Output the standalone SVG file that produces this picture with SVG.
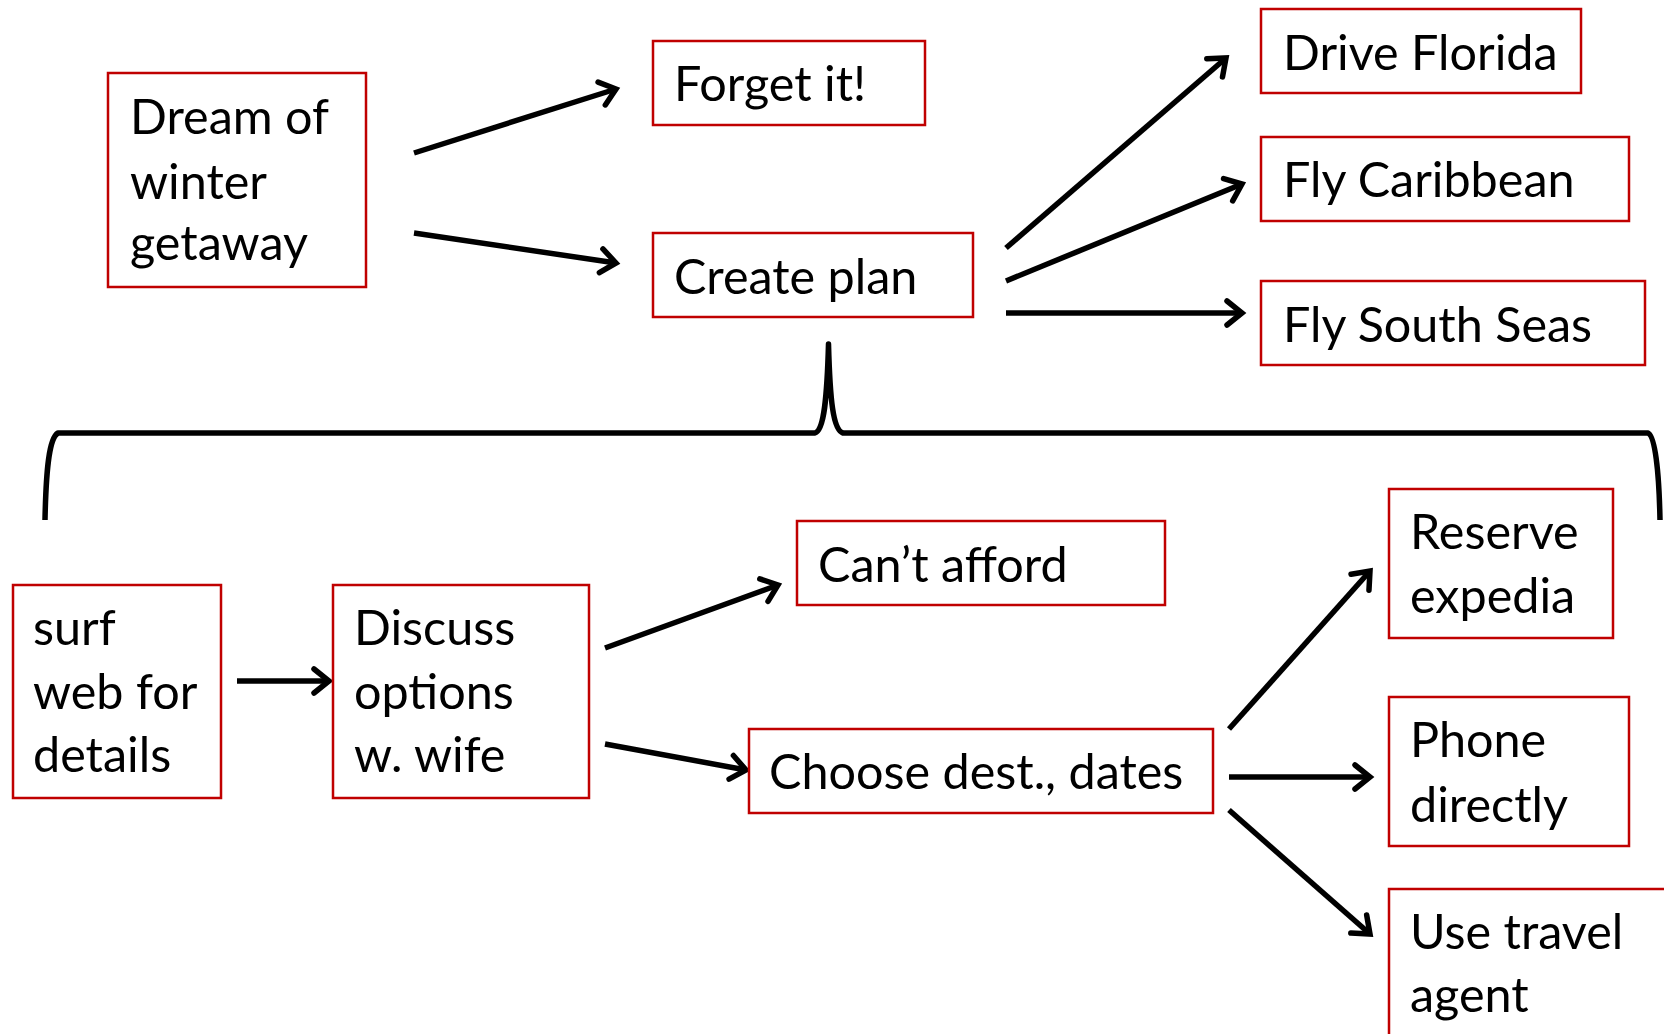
<svg xmlns="http://www.w3.org/2000/svg" width="1664" height="1034" viewBox="0 0 1664 1034">
  <style>
    .box { fill: #ffffff; stroke: #c00000; stroke-width: 2.5; }
    .lbl { font-family: Lato, "Liberation Sans", sans-serif; font-size: 48.5px; fill: #000000; }
    .link { fill: none; stroke: #000000; stroke-width: 5.5; marker-end: url(#chev); }
    .brace { fill: none; stroke: #000000; stroke-width: 5.5; stroke-linejoin: round; }
  </style>
  <defs>
    <marker id="chev" markerUnits="userSpaceOnUse" markerWidth="40" markerHeight="40" viewBox="-20 -20 40 40" refX="0" refY="0" orient="auto">
      <path d="M-15,-12 L0,0 L-15,12" fill="none" stroke="#000000" stroke-width="5.5" stroke-linecap="round" stroke-linejoin="miter"/>
    </marker>
  </defs>

  <rect width="1664" height="1034" fill="#ffffff"/>

  <!-- connectors -->
  <g id="connectors">
    <line class="link" x1="414" y1="153" x2="616" y2="89"/>
    <line class="link" x1="414" y1="233" x2="616" y2="263"/>
    <line class="link" x1="1006" y1="248" x2="1226" y2="58"/>
    <line class="link" x1="1006" y1="281" x2="1242" y2="184"/>
    <line class="link" x1="1006" y1="313" x2="1242" y2="313"/>
    <line class="link" x1="237" y1="681" x2="329" y2="681"/>
    <line class="link" x1="605" y1="648" x2="778" y2="585"/>
    <line class="link" x1="605" y1="744" x2="746" y2="770"/>
    <line class="link" x1="1229" y1="729" x2="1370" y2="571"/>
    <line class="link" x1="1229" y1="777" x2="1370" y2="777"/>
    <line class="link" x1="1229" y1="810" x2="1370" y2="934"/>
    <!-- curly brace expanding "Create plan" -->
    <path class="brace" d="M45,520 C46,470 49,438 58,433 L815,433 C824,430 827,400 828.5,344 C830,400 833,430 843,433 L1648,433 C1655,436 1659,470 1660,520"/>
  </g>

  <g id="dream">
    <rect class="box" x="108" y="73" width="258" height="214"/>
    <text class="lbl" x="130" y="134">Dream of</text>
    <text class="lbl" x="130" y="199">winter</text>
    <text class="lbl" x="130" y="260">getaway</text>
  </g>
  <g id="forget">
    <rect class="box" x="653" y="41" width="272" height="84"/>
    <text class="lbl" x="674" y="101">Forget it!</text>
  </g>
  <g id="create-plan">
    <rect class="box" x="653" y="233" width="320" height="84"/>
    <text class="lbl" x="674" y="294">Create plan</text>
  </g>
  <g id="drive-florida">
    <rect class="box" x="1261" y="9" width="320" height="84"/>
    <text class="lbl" x="1283" y="70">Drive Florida</text>
  </g>
  <g id="fly-caribbean">
    <rect class="box" x="1261" y="137" width="368" height="84"/>
    <text class="lbl" x="1283" y="197">Fly Caribbean</text>
  </g>
  <g id="fly-south-seas">
    <rect class="box" x="1261" y="281" width="384" height="84"/>
    <text class="lbl" x="1283" y="342">Fly South Seas</text>
  </g>

  <g id="surf">
    <rect class="box" x="13" y="585" width="208" height="213"/>
    <text class="lbl" x="33" y="645">surf</text>
    <text class="lbl" x="33" y="709">web for</text>
    <text class="lbl" x="33" y="772">details</text>
  </g>
  <g id="discuss">
    <rect class="box" x="333" y="585" width="256" height="213"/>
    <text class="lbl" x="354" y="645">Discuss</text>
    <text class="lbl" x="354" y="709">options</text>
    <text class="lbl" x="354" y="772">w. wife</text>
  </g>
  <g id="cant-afford">
    <rect class="box" x="797" y="521" width="368" height="84"/>
    <text class="lbl" x="818" y="582">Can’t afford</text>
  </g>
  <g id="choose">
    <rect class="box" x="749" y="729" width="464" height="84"/>
    <text class="lbl" x="769" y="789">Choose dest., dates</text>
  </g>
  <g id="reserve">
    <rect class="box" x="1389" y="489" width="224" height="149"/>
    <text class="lbl" x="1410" y="549">Reserve</text>
    <text class="lbl" x="1410" y="613">expedia</text>
  </g>
  <g id="phone">
    <rect class="box" x="1389" y="697" width="240" height="149"/>
    <text class="lbl" x="1410" y="757">Phone</text>
    <text class="lbl" x="1410" y="822">directly</text>
  </g>
  <g id="travel-agent">
    <rect class="box" x="1389" y="889" width="290" height="160"/>
    <text class="lbl" x="1410" y="949">Use travel</text>
    <text class="lbl" x="1410" y="1012">agent</text>
  </g>
</svg>
